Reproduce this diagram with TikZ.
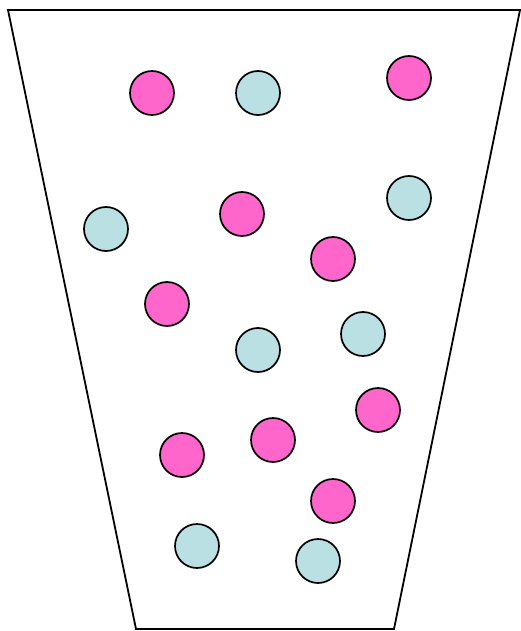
\documentclass[tikz,border=0pt]{standalone}
\definecolor{pinkball}{HTML}{FF66CC}
\definecolor{blueball}{HTML}{BBE0E3}
\begin{document}
\begin{tikzpicture}[x=1pt,y=-1pt,
  ball/.style={circle,draw=black,line width=1.7pt,minimum size=44pt,inner sep=0pt},
  pinkb/.style={ball,fill=pinkball},
  blueb/.style={ball,fill=blueball}]
\useasboundingbox (0,0) rectangle (520,631);
\coordinate (tl) at (8,10);
\coordinate (tr) at (520,10);
\coordinate (br) at (394,629);
\coordinate (bl) at (136,629);
\draw[line width=1.8pt,line join=miter] (tl) -- (tr) -- (br) -- (bl) -- cycle;
\node[pinkb] (p1) at (152,93) {};
\node[pinkb] (p2) at (409,78) {};
\node[pinkb] (p3) at (242,214) {};
\node[pinkb] (p4) at (333,259) {};
\node[pinkb] (p5) at (167,304) {};
\node[pinkb] (p6) at (378,410) {};
\node[pinkb] (p7) at (273,440) {};
\node[pinkb] (p8) at (182,455) {};
\node[pinkb] (p9) at (333,501) {};
\node[blueb] (b1) at (258,93) {};
\node[blueb] (b2) at (106,229) {};
\node[blueb] (b3) at (409,198) {};
\node[blueb] (b4) at (258,350) {};
\node[blueb] (b5) at (363,334) {};
\node[blueb] (b6) at (197,546) {};
\node[blueb] (b7) at (318,561) {};
\end{tikzpicture}
\end{document}
